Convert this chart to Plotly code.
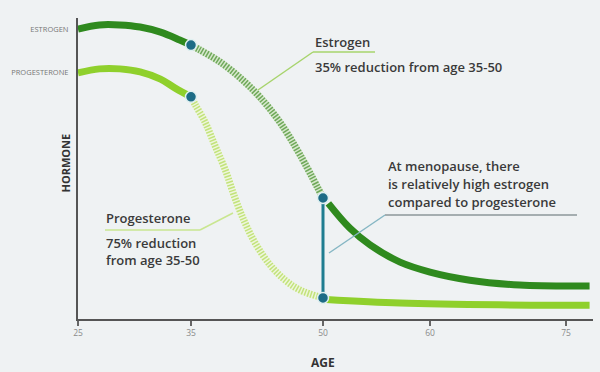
import numpy as np
import plotly.graph_objects as go

# ---------------- data ----------------
tick_ages = [25, 35, 50, 60, 75]
tick_labels = ["25", "35", "50", "60", "75"]
tick_pos = [0, 113, 245, 352, 488]  # illustrative (non-linear) age axis

estro_pre_age = [25.0, 26.9, 28.7, 30.5, 32.3, 34.0, 35.0]
estro_pre_val = [96.3, 97.7, 97.7, 97.0, 95.3, 92.7, 91.0]
estro_mid_age = [35.0, 36.0, 38.3, 40.6, 42.8, 45.1, 47.4, 50.0]
estro_mid_val = [91.0, 89.4, 85.4, 80.1, 73.8, 65.4, 54.5, 40.2]
estro_post_age = [50.5, 52.5, 54.4, 57.2, 60.0, 64.4, 69.9, 77.6]
estro_post_val = [38.4, 30.2, 24.6, 18.9, 15.6, 12.9, 11.3, 11.0]

prog_pre_age = [25.0, 26.9, 28.7, 30.5, 32.3, 33.6, 35.0]
prog_pre_val = [81.8, 83.1, 83.1, 82.1, 79.7, 76.7, 73.8]
prog_mid_age = [35.0, 35.5, 36.6, 37.7, 38.9, 40.0, 41.1, 42.3, 44.0, 45.7, 47.4, 50.0]
prog_mid_val = [73.8, 71.1, 65.4, 57.8, 49.5, 40.2, 32.2, 25.2, 17.9, 12.9, 9.6, 7.0]
prog_post_age = [50.3, 57.2, 67.6, 77.6]
prog_post_val = [6.5, 5.3, 4.7, 4.6]

marker_ages = [35, 35, 50, 50]
marker_vals = [91.0, 73.8, 40.2, 7.0]

# ---------------- helpers ----------------
def pos(ages):
    a = np.asarray(ages, dtype=float)
    p = np.interp(a, tick_ages, tick_pos)
    hi = a > 75
    p[hi] = 488 + (a[hi] - 75) * 9.07
    return p

W, H = 600, 372
L, R, T, B = 78, 7, 18, 53
PW = W - L - R
PH = H - T - B

def px(x):  # pixel -> x axis position
    return x - L

def py(y):  # pixel -> y value (0..100)
    return (H - B - y) / PH * 100

DARK = "#2f8a1e"
LIGHT = "#8fd02c"
TEAL = "#1d6c86"
TEXT = "#3a3a3a"

fig = go.Figure()

def solid(ages, vals, color):
    fig.add_trace(go.Scatter(x=pos(ages), y=vals, mode="lines",
                             line=dict(color=color, width=7, shape="spline"),
                             hoverinfo="skip", showlegend=False))

def hatched(ages, vals, base, stripe):
    fig.add_trace(go.Scatter(x=pos(ages), y=vals, mode="lines",
                             line=dict(color=base, width=7, shape="spline"),
                             hoverinfo="skip", showlegend=False))
    fig.add_trace(go.Scatter(x=pos(ages), y=vals, mode="lines",
                             line=dict(color=stripe, width=7, shape="spline", dash="1.5px,1.5px"),
                             hoverinfo="skip", showlegend=False))

solid(estro_pre_age, estro_pre_val, DARK)
hatched(estro_mid_age, estro_mid_val, "#d6e8cc", "#6fa85a")
solid(estro_post_age, estro_post_val, DARK)

solid(prog_pre_age, prog_pre_val, LIGHT)
hatched(prog_mid_age, prog_mid_val, "#eef7dc", "#c3e27c")
solid(prog_post_age, prog_post_val, LIGHT)

# vertical menopause line
fig.add_trace(go.Scatter(x=pos([50, 50]), y=[marker_vals[2], marker_vals[3]], mode="lines",
                         line=dict(color="#1f7d90", width=3),
                         hoverinfo="skip", showlegend=False))

fig.add_trace(go.Scatter(x=pos(marker_ages), y=marker_vals, mode="markers",
                         marker=dict(color=TEAL, size=11, line=dict(color="#dff0f0", width=1.5)),
                         hoverinfo="skip", showlegend=False))

# connector lines
def seg(x0, y0, x1, y1, color, width=1.5):
    fig.add_shape(type="line", xref="x", yref="y",
                  x0=px(x0), y0=py(y0), x1=px(x1), y1=py(y1),
                  line=dict(color=color, width=width))

seg(313, 52, 375, 52, "#a7d46c")
seg(313, 52, 258, 90, "#a7d46c")
seg(385, 215, 577, 215, "#5d6a6e", 1.2)
seg(385, 215, 329, 253, "#86b7c4")
seg(105, 230, 200, 230, "#c9e690")
seg(200, 230, 233, 213, "#c9e690")

def label(x, y, text, size=13, color=TEXT, weight=600):
    fig.add_annotation(x=px(x), y=py(y), xref="x", yref="y", text=text,
                       showarrow=False, xanchor="left", yanchor="middle", align="left",
                       font=dict(family="Open Sans", size=size, color=color, weight=weight))

label(313, 42, "Estrogen")
label(313, 67, "35% reduction from age 35-50")
label(386, 166, "At menopause, there")
label(386, 184, "is relatively high estrogen")
label(386, 202, "compared to progesterone")
label(104, 218, "Progesterone")
label(104, 243, "75% reduction")
label(104, 260, "from age 35-50")

fig.add_annotation(x=-23 / PW, y=py(163) / 100, xref="paper", yref="paper",
                   text="<b>HORMONE</b>", textangle=-90, showarrow=False,
                   font=dict(family="Open Sans", size=11, color="#333333"))
fig.add_annotation(x=pos([50])[0], y=-43 / PH, xref="x", yref="paper",
                   text="<b>AGE</b>", showarrow=False, yanchor="middle",
                   font=dict(family="Open Sans", size=12, color="#333333"))

fig.update_layout(
    width=W, height=H,
    margin=dict(l=L, r=R, t=T, b=B),
    paper_bgcolor="#eff2f3", plot_bgcolor="#eff2f3",
    xaxis=dict(range=[0, PW], tickvals=pos(tick_ages), ticktext=tick_labels,
               showgrid=False, zeroline=False, showline=True, linecolor="#555555", linewidth=2,
               ticks="outside", ticklen=5, tickwidth=1.5, tickcolor="#666666",
               tickfont=dict(family="Open Sans", size=8.5, color="#8a8a8a")),
    yaxis=dict(range=[0, 100], tickvals=[estro_pre_val[0], prog_pre_val[0]],
               ticktext=["ESTROGEN", "PROGESTERONE"],
               showgrid=False, zeroline=False, showline=True, linecolor="#555555", linewidth=2,
               ticks="", ticklabelstandoff=6,
               tickfont=dict(family="Open Sans", size=7.5, color="#777777")),
)

fig.write_html("out.html")
